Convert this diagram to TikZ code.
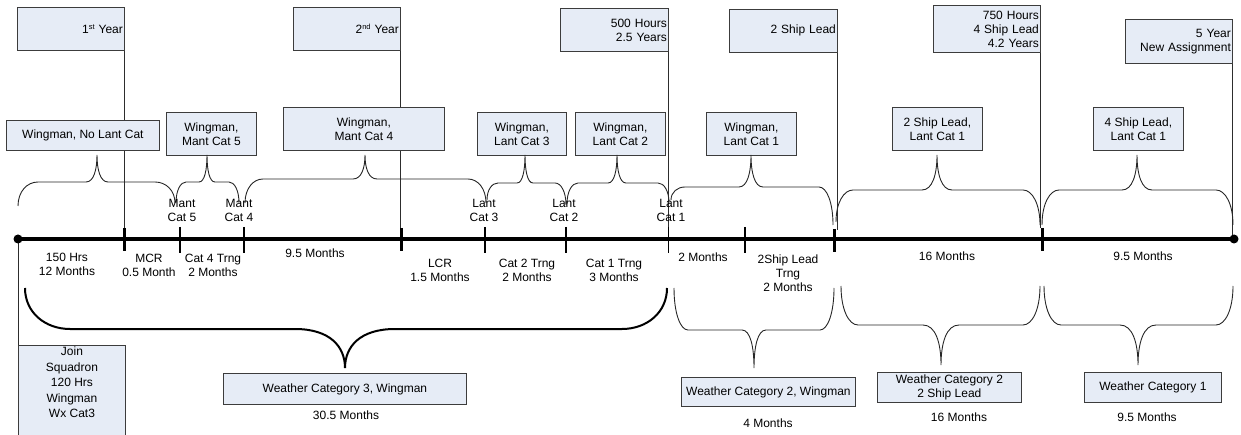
\documentclass[tikz,border=0pt]{standalone}
\usepackage{fontspec}
\setmainfont{Liberation Sans}
\pgfdeclarelayer{bg}
\pgfsetlayers{bg,main}
\definecolor{boxfill}{RGB}{230,236,246}
\definecolor{boxline}{RGB}{60,60,60}
\definecolor{linegray}{RGB}{45,45,45}
\newcommand{\dfont}{\fontsize{12}{14}\selectfont}
\newcommand{\supr}[1]{\raisebox{4.2pt}{\fontsize{7.5}{8}\selectfont #1}}
% brace: x1 y1 x2 y2 yh xt yt r s
\newcommand{\mybrace}[9]{\draw[bracestyle] (#1,#2) .. controls (#1,{#5+(#2-#5)*0.4}) and ({#1+#8*0.45},#5) .. ({#1+#8},#5) -- ({#6-#9},#5) .. controls ({#6-#9*0.3},#5) and (#6,{#5+(#7-#5)*0.45}) .. (#6,#7) .. controls (#6,{#5+(#7-#5)*0.45}) and ({#6+#9*0.3},#5) .. ({#6+#9},#5) -- ({#3-#8},#5) .. controls ({#3-#8*0.45},#5) and (#3,{#5+(#4-#5)*0.4}) .. (#3,#4);}
\begin{document}
\begin{tikzpicture}[x=1pt,y=-1pt,
  box/.style={draw=boxline, fill=boxfill, line width=0.8pt, font=\dfont, inner sep=1pt, anchor=north west, align=center},
  topbox/.style={box, align=right, inner xsep=1.5pt},
  lbl/.style={font=\dfont, align=center, inner sep=0pt},
  conn/.style={draw=linegray, line width=0.9pt},
  bracestyle/.style={draw=black!85, line width=0.9pt},
  major/.style={line width=3pt},
  minor/.style={line width=1.3pt}]
\useasboundingbox (0,0) rectangle (1241,435);

% top milestone boxes
\node[topbox, text width=104pt, minimum height=43pt] (y1) at (17,7) {1\supr{st} Year};
\node[topbox, text width=104pt, minimum height=43pt] (y2) at (293,7) {2\supr{nd} Year};
\node[topbox, text width=105pt, minimum height=43pt] (h500) at (560,8) {500 Hours\\2.5 Years};
\node[topbox, text width=105pt, minimum height=43pt] (sl2) at (729,9) {2 Ship Lead};
\node[topbox, text width=104pt, minimum height=47pt] (h750) at (933,5) {750 Hours\\4 Ship Lead\\4.2 Years};
\node[topbox, text width=104pt, minimum height=44pt] (y5) at (1125,19) {5 Year\\New Assignment};

% middle boxes
\node[box, minimum width=153pt, minimum height=30pt] (wm0) at (6,120) {Wingman, No Lant Cat};
\node[box, minimum width=90pt, minimum height=43pt] (wm5) at (166,112) {Wingman,\\Mant Cat 5};
\node[box, minimum width=161pt, minimum height=43pt] (wm4) at (283,107) {Wingman,\\Mant Cat 4};
\node[box, minimum width=89pt, minimum height=43pt] (wl3) at (477,112) {Wingman,\\Lant Cat 3};
\node[box, minimum width=90pt, minimum height=43pt] (wl2) at (575,112) {Wingman,\\Lant Cat 2};
\node[box, minimum width=90pt, minimum height=43pt] (wl1) at (706,112) {Wingman,\\Lant Cat 1};
\node[box, minimum width=90pt, minimum height=43pt] (s2l1) at (892,107) {2 Ship Lead,\\Lant Cat 1};
\node[box, minimum width=90pt, minimum height=43pt] (s4l1) at (1093,107) {4 Ship Lead,\\Lant Cat 1};

% bottom boxes
\node[box, minimum width=107pt, minimum height=92pt] (join) at (18,345) {};
\node[lbl, anchor=north, font=\fontsize{12}{15.5}\selectfont] (jointxt) at (72,347) {Join\\Squadron\\120 Hrs\\Wingman\\Wx Cat3};
\node[box, minimum width=243pt, minimum height=31pt] (wx3) at (223,373) {Weather Category 3, Wingman};
\node[lbl] (m305) at (346,415) {30.5 Months};
\node[box, minimum width=174pt, minimum height=29pt] (wx2) at (681,377) {Weather Category 2, Wingman};
\node[lbl] (m4) at (768,423) {4 Months};
\node[box, minimum width=144pt, minimum height=30pt] (wx2l) at (877,372) {Weather Category 2\\2 Ship Lead};
\node[lbl] (m16b) at (959,417) {16 Months};
\node[box, minimum width=137pt, minimum height=30pt] (wx1) at (1084,372) {Weather Category 1};
\node[lbl] (m95b) at (1147,417) {9.5 Months};

% timeline coordinates
\coordinate (tA) at (18,239);
\coordinate (tB) at (1234,239);
\coordinate (k1) at (124.5,228);
\coordinate (k2) at (401,228);
\coordinate (k3) at (834,229);
\coordinate (k4) at (1042,228);
\coordinate (n1) at (180,227);
\coordinate (n2) at (244,227);
\coordinate (n3) at (485,227);
\coordinate (n4) at (566,227);
\coordinate (n5) at (668.5,227);
\coordinate (n6) at (745,227);
\coordinate (e2) at (837,230);

\begin{pgfonlayer}{bg}
\draw[conn] (y1.south east) -- (y1.south east |- k1);
\draw[conn] (y2.south east) -- (y2.south east |- k2);
\draw[conn] (h500.south east) -- (h500.south east |- n5);
\draw[conn] (sl2.south east) -- (sl2.south east |- e2);
\draw[conn] (h750.south east) -- (h750.south east |- k4);
\draw[conn] (y5.south east) -- (y5.south east |- tB);
\draw[conn] (tA) -- (tA |- join.north);
\end{pgfonlayer}

% top braces
\mybrace{18}{206}{175}{203}{182}{97}{155}{20}{11}
\mybrace{176}{203}{239}{203}{182}{207}{155}{10}{8}
\mybrace{245}{203}{486}{203}{179}{365}{155}{18}{12}
\mybrace{487}{200}{566}{205}{183}{525}{155}{11}{8}
\mybrace{567}{204}{669}{203}{183}{617}{155}{11}{9}
\mybrace{671}{200}{833}{225}{187}{751}{155}{14}{12}
\mybrace{836}{222}{1040}{225}{190}{937}{155}{17}{15}
\mybrace{1042}{225}{1233}{225}{190}{1137}{155}{17}{15}

% bottom braces
\begin{scope}[bracestyle/.style={draw=black, line width=2pt}]
\mybrace{25}{288}{667}{288}{329}{345}{368}{45}{50}
\end{scope}
\mybrace{674}{288}{834}{288}{330}{754}{368}{14}{12}
\mybrace{841}{286}{1040}{286}{325}{941}{365}{17}{18}
\mybrace{1044}{286}{1233}{286}{325}{1138}{365}{17}{18}

% timeline
\draw[line width=3.5pt] (tA) -- (tB);
\fill (tA) circle (4.5pt);
\fill (tB) circle (4.5pt);
\foreach \k in {k1,k2,k3,k4} \draw[major] (\k) -- ++(0,23);
\foreach \k in {n1,n2,n3,n4,n5,n6} \draw[minor] (\k) -- ++(0,26);

% labels above the line
\node[lbl] (lm5) at (182,210.5) {Mant\\Cat 5};
\node[lbl] (lm4) at (239,210.5) {Mant\\Cat 4};
\node[lbl] (ll3) at (484,210.5) {Lant\\Cat 3};
\node[lbl] (ll2) at (564,210.5) {Lant\\Cat 2};
\node[lbl] (ll1) at (671,210.5) {Lant\\Cat 1};

% labels below the line
\node[lbl] (d1) at (67,264) {150 Hrs\\12 Months};
\node[lbl] (d2) at (149,265.5) {MCR\\0.5 Month};
\node[lbl] (d3) at (213,265.5) {Cat 4 Trng\\2 Months};
\node[lbl] (d4) at (315,253) {9.5 Months};
\node[lbl] (d5) at (440,270) {LCR\\1.5 Months};
\node[lbl] (d6) at (527,270) {Cat 2 Trng\\2 Months};
\node[lbl] (d7) at (614,270) {Cat 1 Trng\\3 Months};
\node[lbl] (d8) at (703,257) {2 Months};
\node[lbl] (d9) at (788,273) {2Ship Lead\\Trng\\2 Months};
\node[lbl] (d10) at (947,256) {16 Months};
\node[lbl] (d11) at (1143,256) {9.5 Months};
\end{tikzpicture}
\end{document}
